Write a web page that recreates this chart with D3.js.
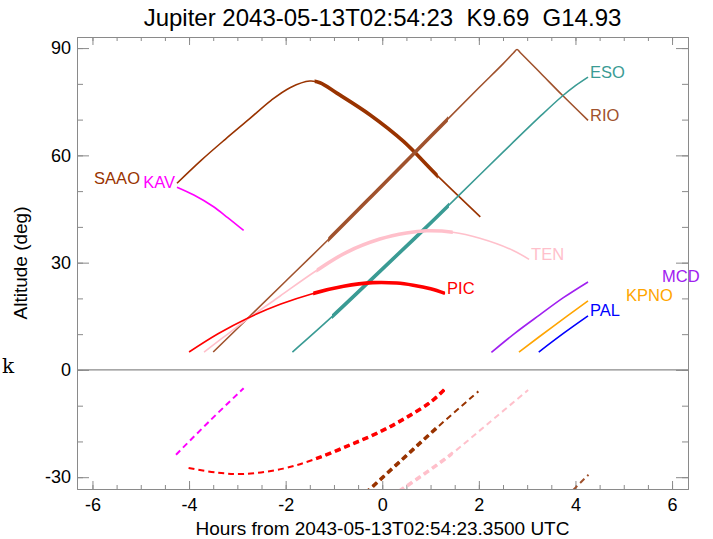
<!DOCTYPE html>
<html>
<head>
<meta charset="utf-8">
<script src="https://cdn.jsdelivr.net/npm/d3@7"></script>
<style>
  body { margin: 0; background: #fff; }
  svg { display: block; font-family: "Liberation Sans", Arial, sans-serif; }
</style>
</head>
<body>
<svg width="713" height="539"></svg>
<script>
const title = "Jupiter 2043-05-13T02:54:23  K9.69  G14.93";
const xTitle = "Hours from 2043-05-13T02:54:23.3500 UTC";
const yTitle = "Altitude (deg)";
const sideLabel = "k";

const xDomain = [-6.32, 6.33];
const yDomain = [-33.3, 93.1];
const xMajorTicks = [-6, -4, -2, 0, 2, 4, 6];
const yMajorTicks = [-30, 0, 30, 60, 90];

const stations = ["SAAO", "KAV", "RIO", "ESO", "TEN", "PIC", "MCD", "KPNO", "PAL"];
const stationColors = ["#993300", "#ff00ff", "#a0522d", "#3a9b94", "#ffc0cb", "#ff0000", "#a020f0", "#ffa500", "#0000ff"];

// altitude tracks [hours, deg]
const saaoAlt = [[-4.25, 52.2], [-3.75, 58.6], [-3.25, 64.5], [-2.75, 70.2], [-2.3, 75.4], [-1.9, 79.0], [-1.5, 80.8], [-1.29, 80.3], [-0.94, 77.4], [-0.25, 71.3], [0.44, 63.9], [1.12, 54.6], [2.03, 42.8]];
const kavAlt = [[-4.25, 51.1], [-3.9, 48.9], [-3.5, 45.7], [-3.2, 42.6], [-2.87, 39.0]];
const rioAlt = [[-3.5, 5.0], [-2.78, 14.5], [-2.0, 24.8], [-1.12, 36.4], [0, 51.6], [0.64, 60.3], [1.36, 70.2], [2.0, 78.9], [2.5, 85.6], [2.72, 88.7], [2.79, 89.6], [2.86, 88.7], [3.3, 82.7], [3.73, 76.8], [4.26, 69.8]];
const esoAlt = [[-1.86, 5.0], [-1.04, 14.9], [0, 28.2], [0.81, 38.6], [1.57, 48.6], [2.5, 60.9], [3.3, 71.3], [3.73, 76.6], [4.0, 79.5], [4.26, 81.9]];
const tenAlt = [[-3.69, 5.0], [-3.3, 9.0], [-2.77, 14.4], [-2.12, 20.6], [-1.36, 27.8], [-0.74, 32.9], [-0.05, 36.6], [0.5, 38.3], [0.92, 38.9], [1.46, 38.5], [2.02, 36.8], [2.71, 33.4], [3.04, 30.9]];
const picAlt = [[-4.0, 5.0], [-3.4, 10.1], [-2.8, 14.4], [-2.1, 18.4], [-1.43, 21.4], [-0.8, 23.4], [-0.2, 24.4], [0.3, 24.3], [0.64, 23.7], [1.0, 22.7], [1.3, 21.4]];
const mcdAlt = [[2.26, 4.9], [2.75, 10.3], [3.26, 15.4], [3.75, 20.2], [4.26, 24.6]];
const kpnoAlt = [[2.83, 5.0], [3.54, 12.2], [4.26, 19.3]];
const palAlt = [[3.24, 5.0], [3.75, 10.2], [4.26, 15.1]];
const altTracks = [saaoAlt, kavAlt, rioAlt, esoAlt, tenAlt, picAlt, mcdAlt, kpnoAlt, palAlt];

// observing window (drawn thick), hours
const windowStart = [-1.4, null, -1.12, -1.04, -1.36, -1.43, null, null, null];
const windowEnd = [1.15, null, 1.36, 1.38, 1.46, 1.3, null, null, null];

// k tracks (dashed, below zero)
const kStations = ["KAV", "PIC", "SAAO", "TEN", "RIO"];
const kavK = [[-4.27, -23.7], [-3.56, -14.1], [-2.87, -5.1]];
const picK = [[-4.01, -27.4], [-3.43, -28.7], [-2.88, -29.1], [-2.05, -27.6], [-1.43, -25.1], [-0.67, -21.0], [0, -17.0], [0.5, -13.3], [1.0, -9.0], [1.3, -5.3]];
const saaoK = [[-0.35, -34.5], [0.4, -25.2], [1.12, -16.3], [1.99, -6.0]];
const tenK = [[0.35, -33.9], [1.33, -24.6], [2.2, -14.9], [3.02, -5.6]];
const rioK = [[3.95, -33.6], [4.27, -29.3]];
const kTracks = [kavK, picK, saaoK, tenK, rioK];

const svg = d3.select("svg");
const width = +svg.attr("width");
const height = +svg.attr("height");
const margin = { top: 37, right: 25, bottom: 50, left: 77 };
const innerWidth = width - margin.left - margin.right;
const innerHeight = height - margin.top - margin.bottom;
const frameColor = "#8a8a8a";
const font = "'Liberation Sans', Arial, sans-serif";

const xScale = d3.scaleLinear().domain(xDomain).range([0, innerWidth]);
const yScale = d3.scaleLinear().domain(yDomain).range([innerHeight, 0]);

const defs = svg.append("defs");
defs.append("clipPath").attr("id", "plot").append("rect").attr("width", innerWidth).attr("height", innerHeight);

const g = svg.append("g").attr("transform", `translate(${margin.left},${margin.top})`);

const styleAxis = (sel) => {
	sel.attr("font-family", font).attr("font-size", 18);
	sel.selectAll(".domain, .tick line").attr("stroke", frameColor);
	sel.selectAll("text").attr("fill", "#000");
};
const noLabels = (sel) => sel.selectAll(".tick text").remove();
const plain = (d) => String(d); // hyphen minus, like the original

const xMinor = d3.range(-6, 6.01, 0.5);
const yMinor = d3.range(-30, 90.1, 10);

// bottom
g.append("g").attr("transform", `translate(0,${innerHeight})`)
	.call(d3.axisBottom(xScale).tickValues(xMinor).tickSize(-4).tickSizeOuter(0)).call(noLabels).call(styleAxis);
g.append("g").attr("transform", `translate(0,${innerHeight})`)
	.call(d3.axisBottom(xScale).tickValues(xMajorTicks).tickSize(-8).tickSizeOuter(0).tickPadding(9).tickFormat(plain)).call(styleAxis);
// top
g.append("g").call(d3.axisTop(xScale).tickValues(xMinor).tickSize(-4).tickSizeOuter(0)).call(noLabels).call(styleAxis);
g.append("g").call(d3.axisTop(xScale).tickValues(xMajorTicks).tickSize(-8).tickSizeOuter(0)).call(noLabels).call(styleAxis);
// left
g.append("g").call(d3.axisLeft(yScale).tickValues(yMinor).tickSize(-6).tickSizeOuter(0)).call(noLabels).call(styleAxis);
g.append("g").call(d3.axisLeft(yScale).tickValues(yMajorTicks).tickSize(-12).tickSizeOuter(0).tickPadding(6).tickFormat(plain)).call(styleAxis);
// right
g.append("g").attr("transform", `translate(${innerWidth},0)`)
	.call(d3.axisRight(yScale).tickValues(yMinor).tickSize(-6).tickSizeOuter(0)).call(noLabels).call(styleAxis);
g.append("g").attr("transform", `translate(${innerWidth},0)`)
	.call(d3.axisRight(yScale).tickValues(yMajorTicks).tickSize(-12).tickSizeOuter(0)).call(noLabels).call(styleAxis);

// zero line
g.append("line")
	.attr("x1", 0).attr("x2", innerWidth)
	.attr("y1", yScale(0)).attr("y2", yScale(0))
	.attr("stroke", frameColor).attr("stroke-width", 1.2);

const plot = g.append("g").attr("clip-path", "url(#plot)");

const line = d3.line()
	.x((d) => xScale(d[0]))
	.y((d) => yScale(d[1]))
	.curve(d3.curveCatmullRom.alpha(0.5));

const windowClip = (i) => {
	const id = `win${i}`;
	if (defs.select(`#${id}`).empty()) {
		defs.append("clipPath").attr("id", id).append("rect")
			.attr("x", xScale(windowStart[i]))
			.attr("width", xScale(windowEnd[i]) - xScale(windowStart[i]))
			.attr("y", -10).attr("height", innerHeight + 20);
	}
	return `url(#${id})`;
};

const drawTrack = (data, i, dashed) => {
	const color = stationColors[i];
	const p = plot.append("path")
		.attr("d", line(data))
		.attr("fill", "none")
		.attr("stroke", color)
		.attr("stroke-width", dashed ? 2 : 1.6);
	if (dashed) p.attr("stroke-dasharray", "6,4");
	if (windowStart[i] != null) {
		const t = plot.append("path")
			.attr("d", line(data))
			.attr("fill", "none")
			.attr("stroke", color)
			.attr("stroke-width", 3.6)
			.attr("clip-path", windowClip(i));
		if (dashed) t.attr("stroke-dasharray", "6,4");
	}
};

stations.forEach((name, i) => drawTrack(altTracks[i], i, false));
kStations.forEach((name, j) => drawTrack(kTracks[j], stations.indexOf(name), true));

// station labels
const labelAtStart = ["SAAO", "KAV"];
const labelShift = { SAAO: -37, KAV: -2, KPNO: 38, MCD: 74 };
stations.forEach((name, i) => {
	const track = altTracks[i];
	const atStart = labelAtStart.includes(name);
	const pt = atStart ? track[0] : track[track.length - 1];
	const shift = labelShift[name] !== undefined ? labelShift[name] : 2;
	g.append("text")
		.attr("x", xScale(pt[0]) + shift)
		.attr("y", yScale(pt[1]) + 0.5)
		.attr("text-anchor", atStart ? "end" : "start")
		.attr("font-family", font)
		.attr("font-size", 16.5)
		.attr("fill", stationColors[i])
		.text(name);
});

// titles
svg.append("text")
	.attr("x", margin.left + innerWidth / 2).attr("y", 26)
	.attr("text-anchor", "middle")
	.attr("font-family", font).attr("font-size", 24)
	.style("white-space", "pre")
	.text(title);

svg.append("text")
	.attr("x", margin.left + innerWidth / 2).attr("y", 535)
	.attr("text-anchor", "middle")
	.attr("font-family", font).attr("font-size", 19)
	.text(xTitle);

svg.append("text")
	.attr("transform", `translate(27,${margin.top + innerHeight / 2}) rotate(-90)`)
	.attr("text-anchor", "middle")
	.attr("font-family", font).attr("font-size", 19)
	.text(yTitle);

svg.append("text")
	.attr("x", 2).attr("y", 373)
	.attr("font-family", "'DejaVu Serif', serif").attr("font-size", 20)
	.text(sideLabel);
</script>
</body>
</html>
